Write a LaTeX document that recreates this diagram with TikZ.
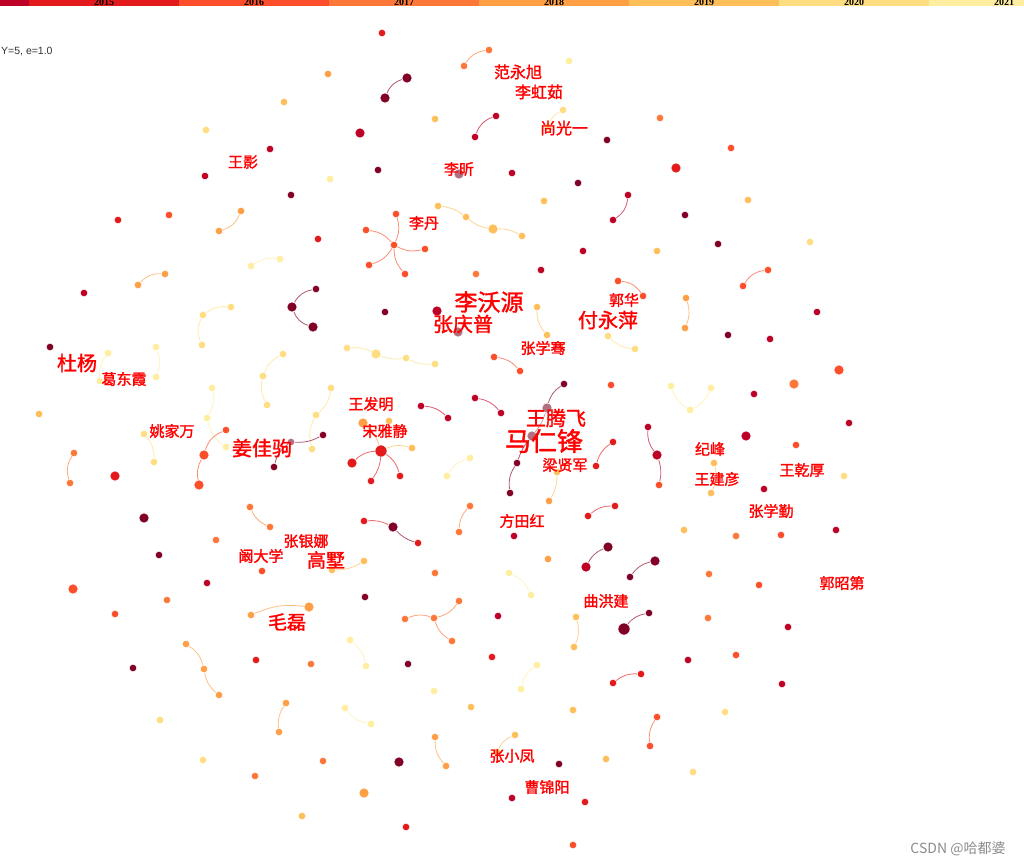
\documentclass[tikz,border=0pt]{standalone}
\usepackage{fontspec}
\newfontfamily\cjk[FakeBold=1.6]{Noto Sans CJK SC}
\newfontfamily\cjkw{Noto Sans CJK SC}
\newfontfamily\lsans{Liberation Sans}
\newfontfamily\lserif{Liberation Serif}
\usetikzlibrary{backgrounds}
\definecolor{kA}{HTML}{800026}
\definecolor{kB}{HTML}{BD0026}
\definecolor{kC}{HTML}{E31A1C}
\definecolor{kD}{HTML}{FC4E2A}
\definecolor{kE}{HTML}{FD7838}
\definecolor{kF}{HTML}{FE9F45}
\definecolor{kG}{HTML}{FEBE5A}
\definecolor{kH}{HTML}{FEDE80}
\definecolor{kI}{HTML}{FFEDA0}
\definecolor{kM}{HTML}{B0707F}
\definecolor{labred}{HTML}{FF0000}
\tikzset{
  d/.style={circle,inner sep=0pt,minimum size=7.5pt,fill=#1,draw=white,line width=0.5pt},
  dm/.style={d=#1,minimum size=10pt},
  dl/.style={d=#1,minimum size=12pt},
  lk/.style={draw=#1,line width=0.8pt,opacity=0.65},
  lb/.style={text=labred,inner sep=0pt,font=\cjk\fontsize{#1}{#1}\selectfont},
  yr/.style={text=black,inner sep=0pt,anchor=base,font=\lserif\bfseries\fontsize{10}{10}\selectfont}
}
\newcommand{\lnk}[4]{\draw[lk=#1] (#2) to[bend right=#4] (#3);}
\begin{document}
\begin{tikzpicture}[x=1pt,y=-1pt]
\clip (0,0) rectangle (1024,867);
% year bar
\fill[kB] (0,0) rectangle (29,6.5);
\fill[kC] (29,0) rectangle (179,6.5);
\fill[kD] (179,0) rectangle (329,6.5);
\fill[kE] (329,0) rectangle (479,6.5);
\fill[kF] (479,0) rectangle (629,6.5);
\fill[kG] (629,0) rectangle (779,6.5);
\fill[kH] (779,0) rectangle (929,6.5);
\fill[kI] (929,0) rectangle (1024,6.5);
\node[yr] (y15) at (104,5.5) {2015};
\node[yr] (y16) at (254,5.5) {2016};
\node[yr] (y17) at (404,5.5) {2017};
\node[yr] (y18) at (554,5.5) {2018};
\node[yr] (y19) at (704,5.5) {2019};
\node[yr] (y20) at (854,5.5) {2020};
\node[yr] (y21) at (1004,5.5) {2021};
\node[anchor=west,inner sep=0pt,text=black!80,font=\lsans\fontsize{10.5}{10.5}\selectfont] (info) at (1,52) {Y=5, e=1.0};
% dots
\node[d=kC] (a1) at (382,33) {};
\node[d=kE] (a2) at (464,66) {};
\node[d=kE] (a3) at (489,50) {};
\node[dm=kA] (a4) at (407,78) {};
\node[dm=kA] (a5) at (385,98) {};
\node[d=kF] (a6) at (328,74) {};
\node[d=kG] (a7) at (284,102) {};
\node[d=kH] (a8) at (206,130) {};
\node[d=kB] (a9) at (270,149) {};
\node[d=kB] (a10) at (205,176) {};
\node[d=kI] (a11) at (330,179) {};
\node[d=kA] (a12) at (291,195) {};
\node[d=kF] (a13) at (241,211) {};
\node[d=kF] (a14) at (219,231) {};
\node[d=kC] (a15) at (118,220) {};
\node[d=kD] (a16) at (169,215) {};
\node[d=kC] (a17) at (318,239) {};
\node[d=kI] (a18) at (251,266) {};
\node[d=kI] (a19) at (280,259) {};
\node[d=kF] (a20) at (138,285) {};
\node[d=kF] (a21) at (165,274) {};
\node[d=kB] (a22) at (84,293) {};
\node[d=kG] (a23) at (435,119) {};
\node[dm=kB] (a24) at (360,133) {};
\node[d=kB] (a25) at (496,116) {};
\node[d=kB] (a26) at (475,137) {};
\node[d=kI] (a27) at (569,61) {};
\node[d=kH] (a28) at (563,110) {};
\node[d=kH] (a29) at (548,127) {};
\node[d=kE] (a30) at (660,118) {};
\node[d=kA] (a31) at (607,140) {};
\node[d=kA] (a32) at (378,170) {};
\node[dm=kM] (a33) at (459,174) {};
\node[d=kB] (a34) at (512,173) {};
\node[d=kA] (a35) at (578,183) {};
\node[dm=kC] (a36) at (676,168) {};
\node[d=kG] (a37) at (544,201) {};
\node[d=kB] (a38) at (628,195) {};
\node[d=kB] (a39) at (613,220) {};
\node[d=kG] (b1) at (438,206) {};
\node[d=kG] (b2) at (466,217) {};
\node[dm=kG] (b3) at (493,229) {};
\node[d=kG] (b4) at (522,236) {};
\node[d=kD] (s0) at (394,245) {};
\node[d=kD] (s1) at (396,214) {};
\node[d=kD] (s2) at (366,230) {};
\node[d=kD] (s3) at (369,265) {};
\node[d=kD] (s4) at (405,274) {};
\node[d=kD] (s5) at (425,249) {};
\node[d=kB] (a40) at (583,251) {};
\node[d=kG] (a41) at (657,251) {};
\node[d=kB] (a42) at (541,270) {};
\node[d=kE] (a43) at (476,274) {};
\node[d=kD] (a44) at (618,281) {};
\node[d=kD] (a45) at (643,296) {};
\node[d=kD] (a46) at (731,148) {};
\node[d=kG] (a47) at (748,200) {};
\node[d=kA] (a48) at (685,215) {};
\node[d=kA] (a49) at (718,244) {};
\node[d=kH] (a50) at (810,242) {};
\node[d=kD] (a51) at (768,270) {};
\node[d=kD] (a52) at (743,286) {};
\node[d=kA] (a53) at (316,289) {};
\node[dm=kA] (a54) at (292,307) {};
\node[dm=kA] (a55) at (313,327) {};
\node[d=kH] (a56) at (203,315) {};
\node[d=kH] (a57) at (231,307) {};
\node[d=kH] (a58) at (202,345) {};
\node[d=kA] (a59) at (50,347) {};
\node[d=kI] (a60) at (108,353) {};
\node[d=kI] (a61) at (100,381) {};
\node[d=kI] (a62) at (156,347) {};
\node[d=kI] (a63) at (156,377) {};
\node[d=kH] (a64) at (283,354) {};
\node[d=kH] (a65) at (263,376) {};
\node[d=kH] (a66) at (267,405) {};
\node[d=kI] (a67) at (212,388) {};
\node[d=kI] (a68) at (207,418) {};
\node[d=kI] (a69) at (226,447) {};
\node[d=kH] (a70) at (331,388) {};
\node[d=kH] (a71) at (316,415) {};
\node[d=kH] (a72) at (312,449) {};
\node[d=kG] (a73) at (39,414) {};
\node[d=kH] (a74) at (144,434) {};
\node[d=kH] (a75) at (154,462) {};
\node[d=kD] (a76) at (226,430) {};
\node[dm=kD] (a77) at (204,455) {};
\node[dm=kD] (a78) at (199,485) {};
\node[d=kA] (a79) at (323,435) {};
\node[d=kM] (a80) at (291,442) {};
\node[d=kA] (a81) at (274,467) {};
\node[d=kE] (a82) at (74,453) {};
\node[d=kE] (a83) at (70,483) {};
\node[dm=kC] (a84) at (115,476) {};
\node[dm=kA] (a85) at (144,518) {};
\node[d=kE] (a86) at (250,507) {};
\node[d=kE] (a87) at (270,527) {};
\node[d=kE] (a88) at (216,540) {};
\node[d=kA] (a89) at (159,555) {};
\node[d=kD] (a90) at (262,571) {};
\node[d=kA] (a91) at (385,312) {};
\node[dm=kB] (a92) at (437,311) {};
\node[dm=kM] (a93) at (458,332) {};
\node[d=kG] (a94) at (537,307) {};
\node[d=kG] (a95) at (547,335) {};
\node[d=kH] (a96) at (608,336) {};
\node[d=kH] (a97) at (635,349) {};
\node[d=kH] (c1) at (347,348) {};
\node[dm=kH] (c2) at (376,354) {};
\node[d=kH] (c3) at (406,358) {};
\node[d=kH] (c4) at (435,364) {};
\node[d=kD] (a98) at (494,357) {};
\node[d=kD] (a99) at (520,371) {};
\node[d=kA] (a100) at (564,384) {};
\node[dm=kM] (a101) at (547,408) {};
\node[dm=kM] (a102) at (532,436) {};
\node[d=kA] (a103) at (517,463) {};
\node[d=kA] (a104) at (510,493) {};
\node[d=kD] (a105) at (611,385) {};
\node[d=kI] (a106) at (671,386) {};
\node[d=kI] (a107) at (690,410) {};
\node[d=kI] (a108) at (711,388) {};
\node[d=kB] (a109) at (421,406) {};
\node[d=kB] (a110) at (448,418) {};
\node[d=kB] (a111) at (475,398) {};
\node[d=kB] (a112) at (501,413) {};
\node[dm=kF] (a113) at (363,423) {};
\node[d=kG] (a114) at (389,421) {};
\node[dl=kC] (t0) at (381,451) {};
\node[dm=kC] (t1) at (352,463) {};
\node[d=kC] (t2) at (371,481) {};
\node[d=kC] (t3) at (400,476) {};
\node[d=kG] (t4) at (412,448) {};
\node[d=kB] (a115) at (648,427) {};
\node[dm=kB] (a116) at (657,455) {};
\node[d=kD] (a117) at (659,485) {};
\node[d=kC] (a118) at (613,442) {};
\node[d=kC] (a119) at (596,466) {};
\node[d=kI] (a120) at (470,458) {};
\node[d=kI] (a121) at (447,476) {};
\node[d=kG] (a122) at (557,472) {};
\node[d=kF] (a123) at (549,501) {};
\node[d=kE] (a124) at (470,506) {};
\node[d=kE] (a125) at (459,532) {};
\node[d=kC] (a126) at (364,521) {};
\node[dm=kA] (a127) at (393,527) {};
\node[d=kC] (a128) at (418,543) {};
\node[d=kB] (a129) at (514,536) {};
\node[d=kC] (a130) at (588,516) {};
\node[d=kC] (a131) at (615,506) {};
\node[dm=kA] (a132) at (608,547) {};
\node[dm=kB] (a133) at (586,567) {};
\node[dm=kA] (a134) at (655,561) {};
\node[d=kA] (a135) at (630,577) {};
\node[d=kG] (a136) at (364,561) {};
\node[d=kG] (a137) at (332,570) {};
\node[d=kF] (a138) at (548,559) {};
\node[d=kE] (a139) at (435,573) {};
\node[d=kI] (a140) at (509,573) {};
\node[d=kI] (a141) at (531,595) {};
\node[d=kF] (a142) at (686,298) {};
\node[d=kF] (a143) at (685,328) {};
\node[d=kB] (a144) at (817,312) {};
\node[d=kA] (a145) at (728,335) {};
\node[d=kB] (a146) at (770,339) {};
\node[dm=kD] (a147) at (839,370) {};
\node[dm=kE] (a148) at (794,384) {};
\node[d=kB] (a149) at (754,394) {};
\node[d=kB] (a150) at (849,423) {};
\node[dm=kB] (a151) at (746,436) {};
\node[d=kD] (a152) at (796,445) {};
\node[d=kG] (a153) at (714,463) {};
\node[d=kG] (a154) at (711,493) {};
\node[d=kH] (a155) at (844,476) {};
\node[d=kB] (a156) at (764,489) {};
\node[d=kG] (a157) at (684,530) {};
\node[d=kE] (a158) at (736,536) {};
\node[d=kD] (a159) at (781,535) {};
\node[d=kB] (a160) at (836,530) {};
\node[d=kE] (a161) at (709,574) {};
\node[dm=kD] (a162) at (73,589) {};
\node[d=kB] (a163) at (207,583) {};
\node[d=kE] (a164) at (167,600) {};
\node[d=kD] (a165) at (115,614) {};
\node[d=kF] (a166) at (251,615) {};
\node[dm=kF] (a167) at (309,607) {};
\node[d=kF] (a168) at (186,644) {};
\node[d=kF] (a169) at (204,669) {};
\node[d=kF] (a170) at (219,695) {};
\node[d=kA] (a171) at (133,668) {};
\node[d=kC] (a172) at (256,660) {};
\node[d=kE] (a173) at (311,664) {};
\node[d=kF] (a174) at (286,703) {};
\node[d=kF] (a175) at (279,732) {};
\node[d=kH] (a176) at (160,720) {};
\node[d=kH] (a177) at (203,760) {};
\node[d=kE] (a178) at (323,761) {};
\node[d=kE] (a179) at (255,776) {};
\node[d=kG] (a180) at (302,816) {};
\node[d=kA] (a181) at (365,597) {};
\node[d=kE] (a182) at (405,619) {};
\node[d=kE] (a183) at (434,618) {};
\node[d=kE] (a184) at (459,601) {};
\node[d=kE] (a185) at (452,641) {};
\node[d=kB] (a186) at (498,616) {};
\node[d=kG] (a187) at (576,617) {};
\node[d=kG] (a188) at (574,647) {};
\node[d=kA] (a189) at (649,613) {};
\node[dl=kA] (a190) at (624,629) {};
\node[d=kI] (a191) at (350,640) {};
\node[d=kI] (a192) at (366,666) {};
\node[d=kA] (a193) at (408,664) {};
\node[d=kC] (a194) at (492,657) {};
\node[d=kI] (a195) at (537,665) {};
\node[d=kI] (a196) at (521,689) {};
\node[d=kC] (a197) at (641,674) {};
\node[d=kC] (a198) at (613,683) {};
\node[d=kI] (a199) at (434,691) {};
\node[d=kI] (a200) at (345,708) {};
\node[d=kI] (a201) at (371,724) {};
\node[d=kG] (a202) at (471,707) {};
\node[d=kG] (a203) at (573,710) {};
\node[d=kD] (a204) at (657,717) {};
\node[d=kD] (a205) at (650,746) {};
\node[d=kF] (a206) at (435,737) {};
\node[d=kF] (a207) at (446,766) {};
\node[d=kG] (a208) at (515,735) {};
\node[d=kG] (a209) at (497,752) {};
\node[dm=kA] (a210) at (399,762) {};
\node[d=kA] (a211) at (559,764) {};
\node[d=kG] (a212) at (606,759) {};
\node[dm=kF] (a213) at (364,793) {};
\node[d=kB] (a214) at (512,798) {};
\node[d=kC] (a215) at (585,802) {};
\node[d=kC] (a216) at (406,827) {};
\node[d=kD] (a217) at (573,845) {};
\node[d=kD] (a218) at (759,585) {};
\node[d=kE] (a219) at (708,618) {};
\node[d=kB] (a220) at (788,627) {};
\node[d=kB] (a221) at (688,660) {};
\node[d=kD] (a222) at (736,655) {};
\node[d=kB] (a223) at (782,684) {};
\node[d=kH] (a224) at (725,712) {};
\node[d=kH] (a225) at (693,772) {};
% links
\begin{scope}[on background layer]
\fill[white] (0,0) rectangle (1024,867);
\lnk{kE}{a2}{a3}{-25}
\lnk{kA}{a4}{a5}{25}
\lnk{kF}{a13}{a14}{-25}
\lnk{kI}{a18}{a19}{-20}
\lnk{kF}{a20}{a21}{-25}
\lnk{kB}{a25}{a26}{25}
\lnk{kH}{a28}{a29}{20}
\lnk{kB}{a38}{a39}{-25}
\lnk{kG}{b1}{b2}{-15}
\lnk{kG}{b2}{b3}{15}
\lnk{kG}{b3}{b4}{-15}
\lnk{kD}{s0}{s1}{20}
\lnk{kD}{s0}{s2}{20}
\lnk{kD}{s0}{s3}{-20}
\lnk{kD}{s0}{s4}{20}
\lnk{kD}{s0}{s5}{20}
\lnk{kD}{a44}{a45}{-25}
\lnk{kD}{a51}{a52}{25}
\lnk{kA}{a53}{a54}{25}
\lnk{kA}{a54}{a55}{25}
\lnk{kH}{a56}{a57}{-20}
\lnk{kH}{a56}{a58}{25}
\lnk{kI}{a60}{a61}{20}
\lnk{kI}{a62}{a63}{-20}
\lnk{kH}{a64}{a65}{20}
\lnk{kH}{a65}{a66}{20}
\lnk{kI}{a67}{a68}{-20}
\lnk{kI}{a68}{a69}{20}
\lnk{kH}{a70}{a71}{-20}
\lnk{kH}{a71}{a72}{20}
\lnk{kH}{a74}{a75}{-20}
\lnk{kD}{a76}{a77}{25}
\lnk{kD}{a77}{a78}{20}
\lnk{kA}{a79}{a80}{-15}
\lnk{kA}{a80}{a81}{20}
\lnk{kE}{a82}{a83}{25}
\lnk{kE}{a86}{a87}{20}
\lnk{kG}{a94}{a95}{20}
\lnk{kH}{a96}{a97}{20}
\lnk{kH}{c1}{c2}{-15}
\lnk{kH}{c2}{c3}{15}
\lnk{kH}{c3}{c4}{15}
\lnk{kD}{a98}{a99}{-20}
\lnk{kA}{a100}{a101}{20}
\lnk{kM}{a101}{a102}{-10}
\lnk{kA}{a102}{a103}{10}
\lnk{kA}{a103}{a104}{20}
\lnk{kI}{a106}{a107}{20}
\lnk{kI}{a107}{a108}{20}
\lnk{kB}{a109}{a110}{-20}
\lnk{kB}{a111}{a112}{-20}
\lnk{kC}{t0}{t1}{20}
\lnk{kC}{t0}{t2}{-15}
\lnk{kC}{t0}{t3}{-20}
\lnk{kG}{t0}{t4}{-20}
\lnk{kF}{t0}{a113}{15}
\lnk{kB}{a115}{a116}{20}
\lnk{kB}{a116}{a117}{-15}
\lnk{kC}{a118}{a119}{20}
\lnk{kI}{a120}{a121}{20}
\lnk{kG}{a122}{a123}{-15}
\lnk{kE}{a124}{a125}{20}
\lnk{kC}{a126}{a127}{-15}
\lnk{kA}{a127}{a128}{15}
\lnk{kC}{a130}{a131}{-20}
\lnk{kA}{a132}{a133}{20}
\lnk{kA}{a134}{a135}{20}
\lnk{kG}{a136}{a137}{-15}
\lnk{kI}{a140}{a141}{-20}
\lnk{kF}{a142}{a143}{-20}
\lnk{kG}{a153}{a154}{-20}
\lnk{kF}{a166}{a167}{-15}
\lnk{kF}{a168}{a169}{-20}
\lnk{kF}{a169}{a170}{20}
\lnk{kF}{a174}{a175}{20}
\lnk{kE}{a182}{a183}{-20}
\lnk{kE}{a183}{a184}{20}
\lnk{kE}{a183}{a185}{20}
\lnk{kG}{a187}{a188}{-20}
\lnk{kA}{a189}{a190}{20}
\lnk{kI}{a191}{a192}{-20}
\lnk{kI}{a195}{a196}{20}
\lnk{kC}{a197}{a198}{20}
\lnk{kI}{a200}{a201}{20}
\lnk{kD}{a204}{a205}{20}
\lnk{kF}{a206}{a207}{20}
\lnk{kG}{a208}{a209}{20}
\end{scope}
% labels
\node[lb=15] (l1) at (243,162) {王影};
\node[lb=16] (l2) at (518,72) {范永旭};
\node[lb=16] (l3) at (539,92) {李虹茹};
\node[lb=16] (l4) at (564,128) {尚光一};
\node[lb=15] (l5) at (459,169) {李昕};
\node[lb=15] (l6) at (424,223) {李丹};
\node[lb=20] (l7) at (77,363) {杜杨};
\node[lb=15] (l8) at (124,379) {葛东霞};
\node[lb=15] (l9) at (172,431) {姚家万};
\node[lb=20] (l10) at (262,448) {姜佳驹};
\node[lb=15] (l11) at (306,541) {张银娜};
\node[lb=15] (l12) at (261,556) {阚大学};
\node[lb=19] (l13) at (326,560) {高墅};
\node[lb=19] (l14) at (287,622) {毛磊};
\node[lb=23] (l15) at (489,302) {李沃源};
\node[lb=20] (l16) at (463,324) {张庆普};
\node[lb=15] (l17) at (624,300) {郭华};
\node[lb=20] (l18) at (608,320) {付永萍};
\node[lb=15] (l19) at (543,348) {张学骞};
\node[lb=15] (l20) at (371,404) {王发明};
\node[lb=15] (l21) at (385,431) {宋雅静};
\node[lb=20] (l22) at (556,418) {王腾飞};
\node[lb=26] (l23) at (544,441) {马仁锋};
\node[lb=15] (l24) at (565,465) {梁贤军};
\node[lb=15] (l25) at (522,521) {方田红};
\node[lb=15] (l26) at (710,449) {纪峰};
\node[lb=15] (l27) at (717,479) {王建彦};
\node[lb=15] (l28) at (802,470) {王乾厚};
\node[lb=15] (l29) at (771,511) {张学勤};
\node[lb=15] (l30) at (842,583) {郭昭第};
\node[lb=15] (l31) at (606,601) {曲洪建};
\node[lb=15] (l32) at (512,756) {张小凤};
\node[lb=15] (l33) at (547,787) {曹锦阳};
\node[inner sep=0pt,text=black!45,font=\cjkw\fontsize{14}{14}\selectfont] (wm) at (958,849) {CSDN @哈都婆};
\end{tikzpicture}
\end{document}
